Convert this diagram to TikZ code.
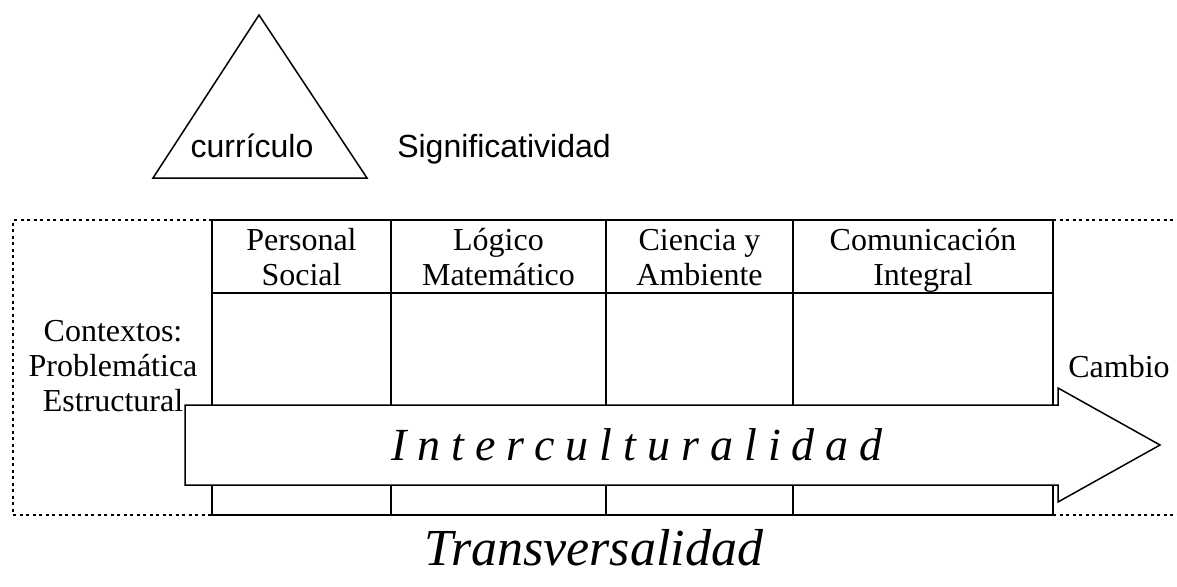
\documentclass[tikz,border=0pt]{standalone}
\usepackage{fontspec}
\setmainfont{Liberation Serif}
\setsansfont{Liberation Sans}
\tikzset{every picture/.append style={x=1pt, y=-1pt}}
\tikzset{
    rule/.style={line width=1.5pt},
    dots/.style={line width=1.4pt, dash pattern=on 3pt off 3.5pt},
    cellhead/.style={align=center, inner sep=0pt, text depth=0pt,
    	font=\fontsize{32}{35}\selectfont},
    sidetext/.style={inner sep=0pt, anchor=base, font=\fontsize{32}{35}\selectfont},
    sanstext/.style={inner sep=0pt, anchor=base, font=\sffamily\fontsize{32}{35}\selectfont}
}

\begin{document}
\begin{tikzpicture}
	\useasboundingbox (0,0) rectangle (1177,586);

	\draw[rule] (259,15) -- (367,178) -- (153,178) -- cycle;
	\node (curr) [sanstext] at (252,157) {currículo};
	\node (sig) [sanstext] at (504,157) {Significatividad};

	\draw[dots] (212,220) -- (13,220) -- (13,515) -- (212,515);
	\draw[dots] (1053,220) -- (1177,220);
	\draw[dots] (1053,515) -- (1177,515);

	\draw[rule] (212,220) rectangle (1053,515);
	\draw[rule] (212,293) -- (1053,293);
	\foreach \x in {391,606,793}
		\draw[rule] (\x,220) -- (\x,515);

	\node (ps) [cellhead] at (301.5,256.5) {Personal\\Social};
	\node (lm) [cellhead] at (498.5,256.5) {Lógico\\Matemático};
	\node (ca) [cellhead] at (699.5,257.5) {Ciencia y\\Ambiente};
	\node (ci) [cellhead] at (923,256.5) {Comunicación\\Integral};

	\node (ctx) [cellhead] at (113,365.5) {Contextos:\\Problemática\\Estructural};
	\node (cambio) [sidetext] at (1119,377) {Cambio};

	\draw[rule, fill=white] (185,405) -- (1058,405) -- (1058,388) -- (1160,445)
		-- (1058,502) -- (1058,485) -- (185,485) -- cycle;
	\node (inter) [sidetext, anchor=base west,
		font=\itshape\fontsize{46}{50}\selectfont\addfontfeatures{LetterSpace=24}]
		at (391,460) {Interculturalidad};

	\node (trans) [sidetext, font=\itshape\fontsize{52}{56}\selectfont]
		at (594,565) {Transversalidad};
\end{tikzpicture}
\end{document}
